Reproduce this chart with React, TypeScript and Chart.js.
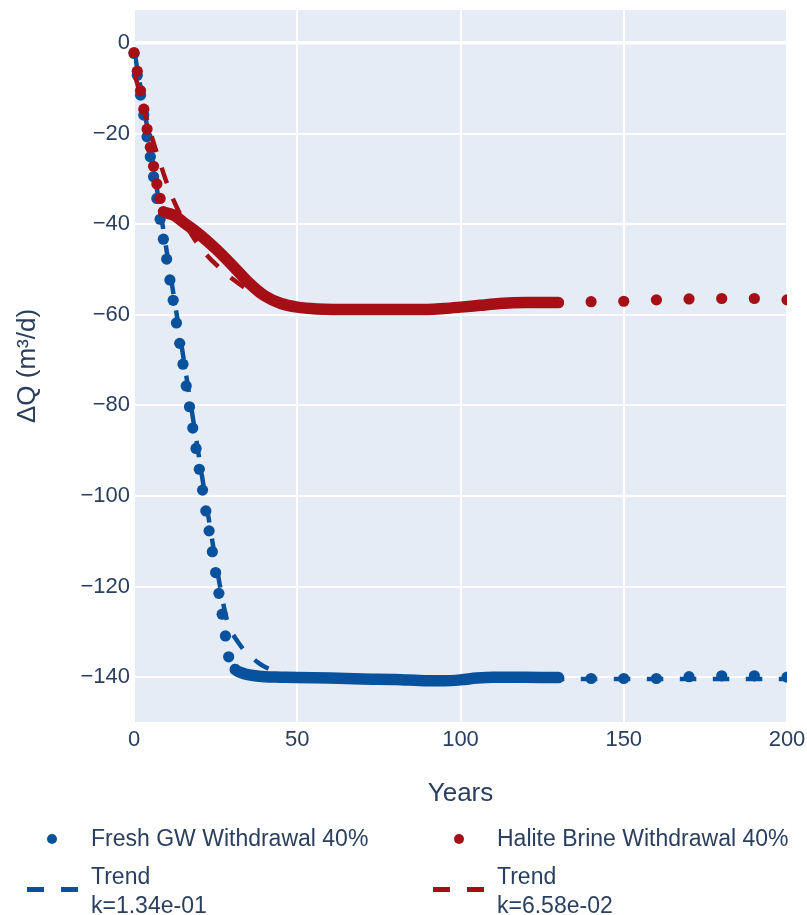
import React, { useEffect, useRef } from 'react';
import { Chart, registerables } from 'chart.js';

Chart.register(...registerables);

const FONT = '"Liberation Sans", Arial, Helvetica, sans-serif';
const TEXT = '#2a3f5f';
const BLUE = '#08519c';
const RED = '#a50f15';
const PLOT_BG = '#e5ecf6';

// Fresh groundwater withdrawal (40%) — yearly samples during the decline
const freshYears = [0, 1, 2, 3, 4, 5, 6, 7, 8, 9, 10, 11, 12, 13, 14, 15, 16, 17, 18, 19, 20, 21, 22, 23, 24, 25, 26, 27, 28, 29];
const freshValues = [
  -2.3, -7.1, -11.5, -15.9, -20.7, -25.1, -29.5, -34.3, -38.9, -43.3,
  -47.7, -52.3, -56.8, -61.8, -66.3, -70.9, -75.7, -80.3, -85.0, -89.5,
  -94.1, -98.7, -103.3, -107.7, -112.3, -116.9, -121.5, -126.1, -130.9, -135.5,
];
// dense record, year 31 to 130
const freshDenseYears = [31, 32, 34, 37, 40, 45, 50, 60, 70, 80, 90, 95, 100, 105, 110, 120, 130];
const freshDenseValues = [
  -138.3, -138.8, -139.3, -139.7, -139.9, -140.0, -140.1, -140.2, -140.4, -140.5,
  -140.8, -140.8, -140.6, -140.2, -140.0, -140.0, -140.1,
];
// decadal samples after year 130
const tailYears = [140, 150, 160, 170, 180, 190, 200];
const freshTailValues = [-140.3, -140.3, -140.3, -139.9, -139.7, -139.7, -140.0];
// fitted trend, k = 1.34e-01
const freshTrendYears = [0, 3, 6, 9, 12, 15, 18, 21, 24, 26, 27, 28, 29, 30, 32, 34, 36, 38, 40, 45, 50, 60, 70, 100, 130, 160, 200];
const freshTrendValues = [
  -1.5, -14, -27.5, -41.3, -55, -68.8, -82.6, -96.4, -110, -118.5, -122.5, -126, -128.7, -130.2,
  -132.4, -134.3, -135.6, -136.8, -137.7, -139.1, -139.8, -140.2, -140.4, -140.4, -140.4, -140.4, -140.4,
];

// Halite brine withdrawal (40%)
const haliteYears = [0, 1, 2, 3, 4, 5, 6, 7, 8, 9];
const haliteValues = [-2.1, -6.2, -10.5, -14.6, -19.0, -23.0, -27.2, -31.1, -34.3, -37.2];
const haliteDenseYears = [10, 12.5, 15, 20, 25, 30, 35, 40, 45, 50, 56, 61, 70, 80, 90, 95, 100, 106, 112, 120, 130];
const haliteDenseValues = [
  -37.5, -38.1, -39.5, -42.2, -45.4, -49.0, -52.8, -55.8, -57.5, -58.3, -58.7,
  -58.8, -58.8, -58.8, -58.8, -58.6, -58.3, -57.9, -57.5, -57.3, -57.3,
];
const haliteTailValues = [-57.1, -57.0, -56.7, -56.5, -56.4, -56.4, -56.7];
// fitted trend, k = 6.58e-02
const haliteTrendYears = [0, 2, 4, 6, 8, 10, 12, 14, 16, 18, 20, 22, 24, 26, 28, 30, 35, 40, 45, 50, 60, 70, 90, 110, 130];
const haliteTrendValues = [
  -6.5, -11.5, -17, -22, -26.5, -30.8, -34.5, -37.6, -40.3, -42.7, -44.8, -46.6, -48.1,
  -49.5, -50.8, -52.0, -54.5, -56.3, -57.4, -58.1, -58.6, -58.8, -58.8, -58.2, -57.6,
];

const xTicks = [0, 50, 100, 150, 200];
const yTicks = [0, -20, -40, -60, -80, -100, -120, -140];

const pts = (xs: number[], ys: number[]) => xs.map((x, i) => ({ x, y: ys[i] }));
const fmtTick = (v: number) => (v < 0 ? '\u2212' + Math.abs(v) : String(v));

const plotBackground = {
  id: 'plotBackground',
  beforeDraw(chart: any) {
    const { ctx, chartArea } = chart;
    ctx.save();
    ctx.fillStyle = PLOT_BG;
    ctx.fillRect(chartArea.left, chartArea.top, chartArea.right - chartArea.left, chartArea.bottom - chartArea.top);
    ctx.restore();
  },
};

const dotStyle = (color: string) => ({
  showLine: false,
  pointRadius: 5.6,
  pointHoverRadius: 5.6,
  pointBackgroundColor: color,
  pointBorderWidth: 0,
  clip: { left: 8, top: 8, right: 0, bottom: 8 },
});

const bandStyle = (color: string) => ({
  showLine: true,
  pointRadius: 0,
  borderColor: color,
  borderWidth: 11.5,
  borderCapStyle: 'round',
  borderJoinStyle: 'round',
  cubicInterpolationMode: 'monotone',
});

const trendStyle = (color: string) => ({
  showLine: true,
  pointRadius: 0,
  borderColor: color,
  borderWidth: 4.5,
  borderDash: [16.5, 16.5],
  cubicInterpolationMode: 'monotone',
  clip: 0,
});

export default function App() {
  const ref = useRef<HTMLCanvasElement>(null);

  useEffect(() => {
    if (!ref.current) return;
    const chart = new Chart(ref.current, {
      type: 'scatter',
      data: {
        datasets: [
          { label: 'Trend k=6.58e-02', data: pts(haliteTrendYears, haliteTrendValues), ...trendStyle(RED) } as any,
          { label: 'Halite dense', data: pts(haliteDenseYears, haliteDenseValues), ...bandStyle(RED) } as any,
          {
            label: 'Halite Brine Withdrawal 40%',
            data: pts(haliteYears.concat(tailYears), haliteValues.concat(haliteTailValues)),
            ...dotStyle(RED),
          } as any,
          { label: 'Trend k=1.34e-01', data: pts(freshTrendYears, freshTrendValues), ...trendStyle(BLUE) } as any,
          { label: 'Fresh dense', data: pts(freshDenseYears, freshDenseValues), ...bandStyle(BLUE) } as any,
          {
            label: 'Fresh GW Withdrawal 40%',
            data: pts(freshYears.concat(tailYears), freshValues.concat(freshTailValues)),
            ...dotStyle(BLUE),
          } as any,
        ],
      },
      options: {
        responsive: false,
        animation: false,
        devicePixelRatio: 1,
        events: [],
        layout: { padding: { left: 0, top: 10, right: 20, bottom: 0 } },
        plugins: { legend: { display: false }, tooltip: { enabled: false } },
        scales: {
          x: {
            type: 'linear',
            min: 0,
            max: 200,
            afterFit(s: any) {
              s.height = 193;
              s.paddingLeft = 0;
              s.paddingRight = 0;
            },
            afterBuildTicks(s: any) { s.ticks = xTicks.map((v) => ({ value: v })); },
            grid: { color: '#ffffff', lineWidth: 2, drawTicks: false },
            border: { display: false },
            ticks: {
              padding: 5,
              color: TEXT,
              maxRotation: 0,
              font: { family: FONT, size: 22 },
              callback: (v: any) => fmtTick(Number(v)),
            },
            title: {
              display: true,
              text: 'Years',
              color: TEXT,
              font: { family: FONT, size: 26 },
              padding: { top: 0, bottom: 106 },
            },
          },
          y: {
            type: 'linear',
            min: -149.9,
            max: 7.3,
            afterFit(s: any) {
              s.width = 134;
              s.paddingTop = 0;
              s.paddingBottom = 0;
            },
            afterBuildTicks(s: any) { s.ticks = yTicks.map((v) => ({ value: v })); },
            grid: {
              color: '#ffffff',
              lineWidth: (c: any) => (c.tick && c.tick.value === 0 ? 3.5 : 2),
              drawTicks: false,
            },
            border: { display: false },
            ticks: {
              padding: 4,
              color: TEXT,
              font: { family: FONT, size: 22 },
              callback: (v: any) => fmtTick(Number(v)),
            },
            title: {
              display: true,
              text: 'ΔQ (m³/d)',
              color: TEXT,
              font: { family: FONT, size: 26 },
              padding: { top: 12, bottom: 0 },
            },
          },
        },
      } as any,
      plugins: [plotBackground],
    });
    return () => chart.destroy();
  }, []);

  const textStyle: React.CSSProperties = {
    position: 'absolute',
    fontFamily: FONT,
    fontSize: 23,
    lineHeight: '29px',
    color: TEXT,
    whiteSpace: 'nowrap',
  };
  const dot = (color: string, cx: number, cy: number): React.CSSProperties => ({
    position: 'absolute',
    left: cx - 5,
    top: cy - 5,
    width: 10,
    height: 10,
    borderRadius: '50%',
    background: color,
  });
  const dash = (color: string, x: number, cy: number): React.CSSProperties => ({
    position: 'absolute',
    left: x,
    top: cy - 2.5,
    width: 51,
    height: 5,
    background: `repeating-linear-gradient(to right, ${color} 0px, ${color} 17px, transparent 17px, transparent 34px)`,
  });

  return (
    <div style={{ position: 'absolute', left: 0, top: 0, width: 807, height: 915, background: '#ffffff' }}>
      <canvas ref={ref} width={807} height={915} style={{ display: 'block', width: 807, height: 915 }} />
      <div style={dot(BLUE, 52, 838.5)} />
      <div style={{ ...textStyle, left: 91, top: 824 }}>Fresh GW Withdrawal 40%</div>
      <div style={dot(RED, 458.5, 838.5)} />
      <div style={{ ...textStyle, left: 497, top: 824 }}>Halite Brine Withdrawal 40%</div>
      <div style={dash(BLUE, 26.5, 889)} />
      <div style={{ ...textStyle, left: 91, top: 862 }}>Trend<br />k=1.34e-01</div>
      <div style={dash(RED, 433, 889)} />
      <div style={{ ...textStyle, left: 497, top: 862 }}>Trend<br />k=6.58e-02</div>
    </div>
  );
}
